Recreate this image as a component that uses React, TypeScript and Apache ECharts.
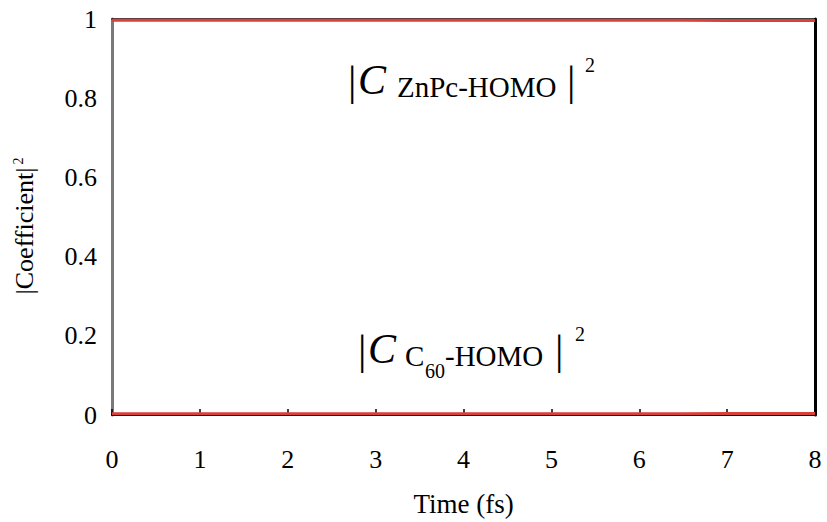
import React, { useEffect, useRef } from "react";
import * as echarts from "echarts";

const times = [0, 0.5, 1, 1.5, 2, 2.5, 3, 3.5, 4, 4.5, 5, 5.5, 6, 6.5, 7, 7.5, 8];
const znpcHomo = [0.997, 0.997, 0.997, 0.997, 0.997, 0.997, 0.997, 0.997, 0.997, 0.997, 0.997, 0.997, 0.997, 0.997, 0.996, 0.996, 0.996];
const c60Homo = [0.003, 0.003, 0.003, 0.003, 0.003, 0.003, 0.003, 0.003, 0.003, 0.003, 0.003, 0.003, 0.003, 0.003, 0.004, 0.004, 0.004];
const xTicks = [0, 1, 2, 3, 4, 5, 6, 7, 8];
const yTicks = [0, 0.2, 0.4, 0.6, 0.8, 1];

const FONT = "'Liberation Serif', 'Times New Roman', serif";

function txt(text: string, x: number, baseline: number, size: number, italic = false) {
  return {
    type: "text",
    x,
    y: baseline - 0.34 * size,
    silent: true,
    style: {
      text,
      fontFamily: FONT,
      fontSize: size,
      fontStyle: italic ? "italic" : "normal",
      fill: "#000",
      textAlign: "left",
      textVerticalAlign: "middle",
    },
  };
}

export default function App() {
  const ref = useRef<HTMLDivElement>(null);
  useEffect(() => {
    document.body.style.margin = "0";
    if (!ref.current) return;
    const chart = echarts.init(ref.current, null, { renderer: "svg" });
    const lineData = (vals: number[]) => times.map((t, i) => [t, vals[i]]);
    chart.setOption({
      animation: false,
      backgroundColor: "#fff",
      grid: { left: 112, right: 12, top: 19, bottom: 104 },
      xAxis: [
        {
          type: "value",
          min: 0,
          max: 8,
          interval: 1,
          name: "Time (fs)",
          nameLocation: "middle",
          nameGap: 75,
          nameTextStyle: { fontFamily: FONT, fontSize: 27, color: "#000" },
          axisLine: { show: true, lineStyle: { color: "#000", width: 2 } },
          axisTick: { show: true, inside: true, length: 6, lineStyle: { color: "#000", width: 1.5 } },
          axisLabel: {
            fontFamily: FONT,
            fontSize: 26,
            color: "#000",
            margin: 31,
            formatter: (v: number) => (xTicks.includes(v) ? String(v) : ""),
          },
          splitLine: { show: false },
        },
        {
          type: "value",
          position: "top",
          min: 0,
          max: 8,
          axisLine: { show: true, onZero: false, lineStyle: { color: "#000", width: 1.5 } },
          axisTick: { show: false },
          axisLabel: { show: false },
          splitLine: { show: false },
        },
      ],
      yAxis: [
        {
          type: "value",
          min: 0,
          max: 1,
          interval: 0.2,
          axisLine: { show: true, onZero: false, lineStyle: { color: "#7a7a7a", width: 3 } },
          axisTick: { show: false },
          axisLabel: {
            fontFamily: FONT,
            fontSize: 26,
            color: "#000",
            margin: 15,
            formatter: (v: number) => {
              const found = yTicks.find((t) => Math.abs(t - v) < 1e-9);
              return found === undefined ? "" : String(found);
            },
          },
          splitLine: { show: false },
        },
        {
          type: "value",
          position: "right",
          min: 0,
          max: 1,
          axisLine: { show: true, onZero: false, lineStyle: { color: "#000", width: 3 } },
          axisTick: { show: false },
          axisLabel: { show: false },
          splitLine: { show: false },
        },
      ],
      series: [
        {
          name: "ZnPc-HOMO",
          type: "line",
          data: lineData(znpcHomo),
          showSymbol: false,
          lineStyle: { color: "#d8403a", width: 3 },
          z: 3,
        },
        {
          name: "C60-HOMO",
          type: "line",
          data: lineData(c60Homo),
          showSymbol: false,
          lineStyle: { color: "#d8403a", width: 3 },
          z: 3,
        },
      ],
      graphic: [
        {
          type: "text",
          x: 24,
          y: 226,
          rotation: Math.PI / 2,
          silent: true,
          style: {
            text: "|Coefficient|{sup|2}",
            fontFamily: FONT,
            fontSize: 26,
            fill: "#000",
            textAlign: "center",
            textVerticalAlign: "middle",
            rich: {
              sup: { fontFamily: FONT, fontSize: 14, fill: "#000", verticalAlign: "top", padding: [0, 0, 0, 3] },
            },
          },
        },
        txt("|", 348, 95, 42),
        txt("C", 358, 94, 42, true),
        txt("ZnPc-HOMO", 397, 97, 29),
        txt("|", 567, 95, 42),
        txt("2", 585, 72, 20),

        txt("|", 358, 364, 42),
        txt("C", 368, 363, 42, true),
        txt("C", 405, 366, 29),
        txt("60", 425, 378, 20),
        txt("-HOMO", 445, 366, 29),
        txt("|", 555, 364, 42),
        txt("2", 575, 341, 20),
      ],
    });
    return () => chart.dispose();
  }, []);
  return <div ref={ref} style={{ width: 827, height: 522 }} />;
}
